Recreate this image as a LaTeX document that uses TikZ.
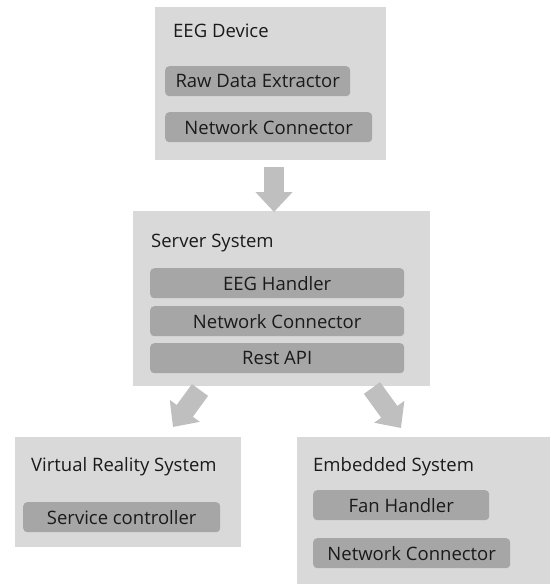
\documentclass[tikz,border=0pt]{standalone}
\usepackage{fontspec}
\setmainfont{Open Sans}
\usetikzlibrary{arrows.meta}
\definecolor{outerc}{HTML}{D9D9D9}
\definecolor{innerc}{HTML}{A6A6A6}
\definecolor{arrowc}{HTML}{BFBFBF}
\definecolor{txtc}{HTML}{1A1A1A}
\tikzset{
  outerbox/.style={fill=outerc, draw=none, inner sep=0pt, anchor=north west},
  innerbox/.style={fill=innerc, draw=none, rounded corners=4pt, inner sep=0pt, anchor=north west,
    minimum height=30pt, text=txtc, font=\fontsize{18.5}{20}\selectfont},
  titletext/.style={anchor=base west, inner sep=0pt, text=txtc, font=\fontsize{18.5}{20}\selectfont},
  blockarrow/.style={draw=arrowc, line width=20pt, line cap=butt,
    -{Triangle[width=36pt, length=20pt, fill=arrowc, color=arrowc]}}
}
\begin{document}
\begin{tikzpicture}[x=1pt,y=-1pt]
\useasboundingbox (0,0) rectangle (550,584);
% EEG Device
\node[outerbox, minimum width=231pt, minimum height=153pt] (eeg) at (155,7) {};
\node[titletext] (eegt) at (173,37) {EEG Device};
\node[innerbox, minimum width=185pt] (raw) at (165,66) {Raw Data Extractor};
\node[innerbox, minimum width=207pt] (eegnet) at (165,112) {Network Connector};
% Server
\node[outerbox, minimum width=297pt, minimum height=175pt] (server) at (133,211) {};
\node[titletext] (servert) at (151,247) {Server System};
\node[innerbox, minimum width=254pt] (handler) at (150,268) {EEG Handler};
\node[innerbox, minimum width=254pt] (srvnet) at (150,306) {Network Connector};
\node[innerbox, minimum width=254pt] (rest) at (150,343) {Rest API};
% VR
\node[outerbox, minimum width=226pt, minimum height=110pt] (vr) at (15,437) {};
\node[titletext] (vrt) at (31,471) {Virtual Reality System};
\node[innerbox, minimum width=197pt] (svc) at (23,502) {Service controller};
% Embedded
\node[outerbox, minimum width=253pt, minimum height=147pt] (emb) at (297,437) {};
\node[titletext] (embt) at (313,471) {Embedded System};
\node[innerbox, minimum width=176pt] (fan) at (313,490) {Fan Handler};
\node[innerbox, minimum width=197pt] (embnet) at (313,538) {Network Connector};
% arrows
\coordinate (a1s) at (274,167);
\coordinate (a1e) at (274,212);
\coordinate (a2s) at (200,390);
\coordinate (a2e) at (173,427);
\coordinate (a3s) at (372,388);
\coordinate (a3e) at (401,428);
\draw[blockarrow] (a1s) -- (a1e);
\draw[blockarrow] (a2s) -- (a2e);
\draw[blockarrow] (a3s) -- (a3e);
\end{tikzpicture}
\end{document}
